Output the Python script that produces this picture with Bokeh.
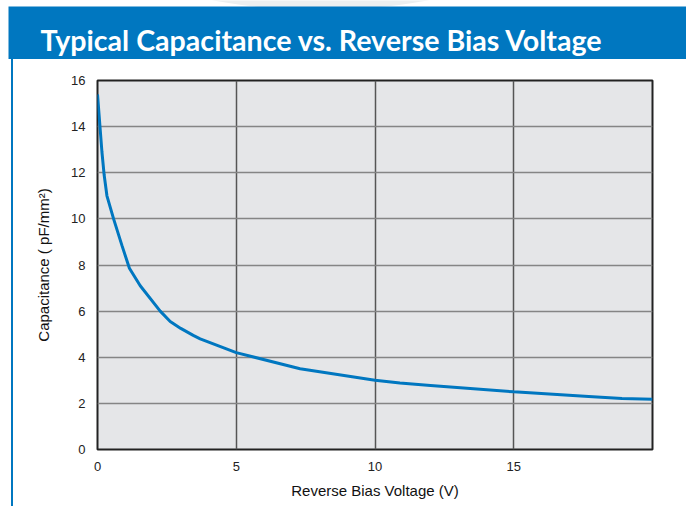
from bokeh.plotting import figure
from bokeh.layouts import column, row
from bokeh.models import FixedTicker, Range1d, Div
from bokeh.core.properties import value
from bokeh.embed import file_html
from bokeh.resources import INLINE

title_text = "Typical Capacitance vs. Reverse Bias Voltage"
x_label = "Reverse Bias Voltage (V)"
y_label = "Capacitance ( pF/mm\u00b2)"
x_ticks = [0, 5, 10, 15]
y_ticks = [0, 2, 4, 6, 8, 10, 12, 14, 16]

voltage = [0, 0.16, 0.24, 0.34, 0.58, 0.88, 1.15, 1.54, 2.26, 2.62, 3.0, 3.45, 3.7,
           5, 7.3, 10, 10.9, 12, 15, 17.7, 18.9, 20]
capacitance = [15.4, 12.9, 11.9, 11.0, 10.0, 8.85, 7.86, 7.1, 6.0, 5.55, 5.25, 4.95, 4.8,
               4.2, 3.5, 3.0, 2.88, 2.78, 2.5, 2.3, 2.21, 2.18]

BLUE = "#0077c0"
FONT = "Liberation Sans"

# --- title bar ---
top = figure(width=686, height=59, x_range=Range1d(0, 686), y_range=Range1d(0, 59),
             output_backend="svg", toolbar_location=None, min_border=0)
top.axis.visible = False
top.grid.visible = False
top.outline_line_color = None
top.background_fill_color = "white"
top.border_fill_color = "white"
top.ellipse(x=[320], y=[78], width=290, height=56, fill_color="#eceff0", line_color=None)
top.quad(left=[8], right=[686], bottom=[0], top=[53], color=BLUE, line_width=0)
top.text(x=[40], y=[20], text=[title_text], text_color="white",
         text_font=value("Lato"), text_font_style="bold", text_font_size="28.6px",
         text_baseline="alphabetic", text_align="left")

# --- left blue rule ---
rule = Div(text='<div style="margin-left:11px;width:2px;height:447px;background:%s"></div>' % BLUE,
           width=14, height=447, margin=0)

# --- main chart ---
p = figure(width=672, height=447, x_range=Range1d(0, 20), y_range=Range1d(0, 16),
           output_backend="svg", toolbar_location=None,
           min_border_left=83, min_border_right=34, min_border_top=21, min_border_bottom=57)
p.background_fill_color = "#e5e6e8"
p.border_fill_color = "white"
p.outline_line_color = "#222222"
p.outline_line_width = 2

p.line(voltage, capacitance, line_color=BLUE, line_width=3)

p.xaxis.ticker = FixedTicker(ticks=x_ticks)
p.yaxis.ticker = FixedTicker(ticks=y_ticks)
for ax in (p.xaxis[0], p.yaxis[0]):
    ax.axis_line_color = None
    ax.major_tick_line_color = None
    ax.minor_tick_line_color = None
    ax.major_tick_out = 0
    ax.major_tick_in = 0
    ax.major_label_text_font = FONT
    ax.major_label_text_font_size = "13px"
    ax.major_label_text_color = "#222222"
    ax.axis_label_text_font = FONT
    ax.axis_label_text_font_size = "15px"
    ax.axis_label_text_font_style = "normal"
    ax.axis_label_text_color = "#111111"
    ax.major_label_standoff = 12

p.xaxis.axis_label = x_label
p.yaxis.axis_label = y_label
p.xaxis.axis_label_standoff = 8
p.yaxis.axis_label_standoff = 16

p.xgrid.grid_line_color = "#555555"
p.xgrid.grid_line_width = 1.5
p.ygrid.grid_line_color = "#858585"
p.ygrid.grid_line_width = 1.5

layout = column(top, row(rule, p, spacing=0), spacing=0)
open("out.html", "w").write(file_html(layout, INLINE))
